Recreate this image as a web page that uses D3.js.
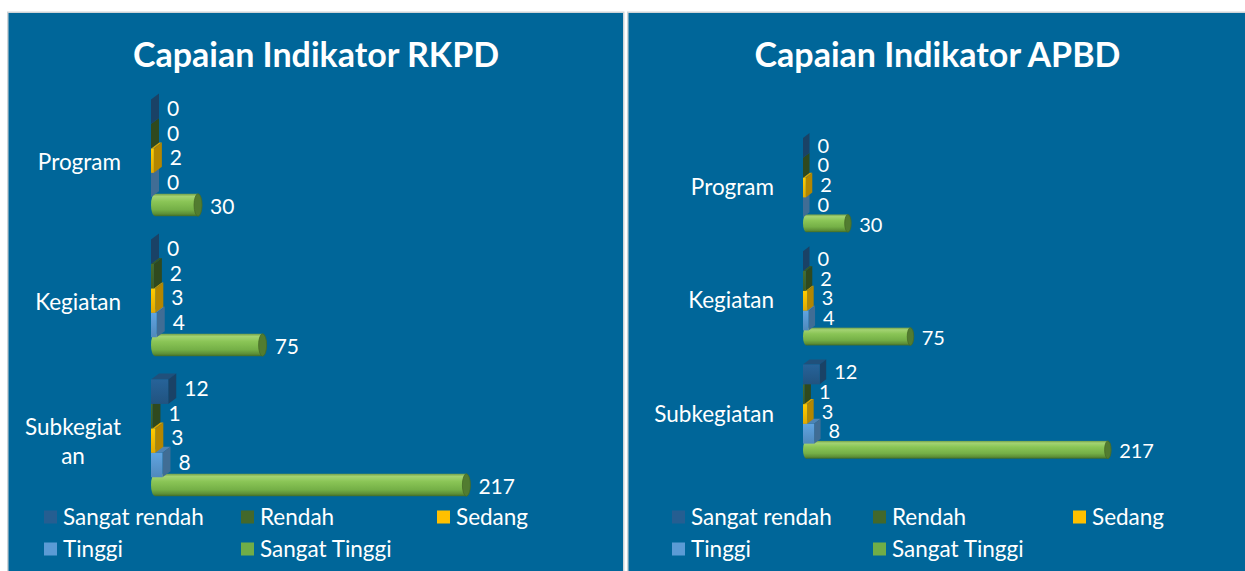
<!DOCTYPE html>
<html>
<head>
<meta charset="utf-8">
<script src="https://cdn.jsdelivr.net/npm/d3@7"></script>
<style>
  html, body { margin: 0; padding: 0; background: #ffffff; }
  svg { display: block; font-family: Lato, "Open Sans", sans-serif; }
</style>
</head>
<body>
<svg id="chart" width="1245" height="571"></svg>
<script>
// ---- data ----
const categories = ["Program", "Kegiatan", "Subkegiatan"];
const seriesNames = ["Sangat rendah", "Rendah", "Sedang", "Tinggi", "Sangat Tinggi"];
const seriesColors = ["#255E91", "#43682B", "#FFC000", "#5B9BD5", "#70AD47"];
const titles = ["Capaian Indikator RKPD", "Capaian Indikator APBD"];

// RKPD counts per category (Program, Kegiatan, Subkegiatan)
const rkpdSangatRendah = [0, 0, 12];
const rkpdRendah = [0, 2, 1];
const rkpdSedang = [2, 3, 3];
const rkpdTinggi = [0, 4, 8];
const rkpdSangatTinggi = [30, 75, 217];

// APBD counts per category (Program, Kegiatan, Subkegiatan)
const apbdSangatRendah = [0, 0, 12];
const apbdRendah = [0, 2, 1];
const apbdSedang = [2, 3, 3];
const apbdTinggi = [0, 4, 8];
const apbdSangatTinggi = [30, 75, 217];

// ---- layout ----
const axisMax = 250;
const panels = [
  { title: titles[0],
    values: [rkpdSangatRendah, rkpdRendah, rkpdSedang, rkpdTinggi, rkpdSangatTinggi],
    left: 7, right: 624.5, titleX: 316, axisX: 151, unit: 1.435,
    yTop: 87.6, yBottom: 507.6, dx: 8, dy: 6,
    labelEnd: 121, labelShift: 5, wrapWidth: 100, valueSize: 21,
    legendX: [44, 241, 437] },
  { title: titles[1],
    values: [apbdSangatRendah, apbdRendah, apbdSedang, apbdTinggi, apbdSangatTinggi],
    left: 627, right: 1252, titleX: 937.5, axisX: 803, unit: 1.39,
    yTop: 128.4, yBottom: 468.1, dx: 6.5, dy: 5,
    labelEnd: 774, labelShift: 3, wrapWidth: 220, valueSize: 20,
    legendX: [672, 873, 1073] }
];
const legendRowsY = [517, 549];

const svg = d3.select("#chart");
const defs = svg.append("defs");

// front-face gradients for the box series
seriesColors.forEach((c, i) => {
  const base = d3.color(c);
  const lg = defs.append("linearGradient")
    .attr("id", "front" + i).attr("x1", 0).attr("y1", 0).attr("x2", 0).attr("y2", 1);
  lg.append("stop").attr("offset", "0%").attr("stop-color", base.brighter(0.15));
  lg.append("stop").attr("offset", "100%").attr("stop-color", base.darker(0.35));
});

// cylinder body shading
const cyl = defs.append("linearGradient")
  .attr("id", "cylBody").attr("x1", 0).attr("y1", 0).attr("x2", 0).attr("y2", 1);
[["0%", "#74a04a"], ["12%", "#a3d372"], ["35%", "#8ac556"], ["70%", "#75b047"],
 ["90%", "#5c8e36"], ["100%", "#416a26"]].forEach(([o, c]) =>
  cyl.append("stop").attr("offset", o).attr("stop-color", c));

function drawBox(g, x0, x1, y, h, dx, dy, si) {
  const c = d3.color(seriesColors[si]);
  g.append("path")
    .attr("d", `M${x0},${y}L${x1},${y}L${x1 + dx},${y - dy}L${x0 + dx},${y - dy}Z`)
    .attr("fill", c.darker(0.45));
  g.append("path")
    .attr("d", `M${x1},${y}L${x1 + dx},${y - dy}L${x1 + dx},${y + h - dy}L${x1},${y + h}Z`)
    .attr("fill", c.darker(1.0));
  if (x1 > x0) {
    g.append("rect")
      .attr("x", x0).attr("y", y).attr("width", x1 - x0).attr("height", h)
      .attr("fill", `url(#front${si})`);
  }
}

function drawCylinder(g, x0, x1, cy, r, rx) {
  g.append("rect")
    .attr("x", x0).attr("y", cy - r).attr("width", Math.max(0, x1 - x0)).attr("height", 2 * r)
    .attr("fill", "url(#cylBody)");
  g.append("ellipse")
    .attr("cx", x0).attr("cy", cy).attr("rx", rx).attr("ry", r)
    .attr("fill", "url(#cylBody)");
  g.append("ellipse")
    .attr("cx", x1).attr("cy", cy).attr("rx", rx).attr("ry", r)
    .attr("fill", "#527c30").attr("stroke", "#456b27").attr("stroke-width", 0.8);
}

panels.forEach(p => {
  const g = svg.append("g");

  g.append("rect")
    .attr("x", p.left + 0.75).attr("y", 12.25)
    .attr("width", p.right - p.left - 1.5).attr("height", 600)
    .attr("fill", "#006699").attr("stroke", "#cfd4d8").attr("stroke-width", 1.5);

  g.append("text")
    .attr("x", p.titleX).attr("y", 67)
    .attr("text-anchor", "middle")
    .attr("font-size", 34).attr("font-weight", 700).attr("fill", "#ffffff")
    .text(p.title);

  const x = d3.scaleLinear().domain([0, axisMax])
    .range([p.axisX, p.axisX + axisMax * p.unit]);
  const y = d3.scaleBand().domain(categories)
    .range([p.yTop, p.yBottom]).paddingInner(0.127).paddingOuter(0.0635);
  const ys = d3.scaleBand().domain(seriesNames).range([0, y.bandwidth()]);
  const sh = ys.bandwidth();

  // category labels
  const axis = g.append("g")
    .attr("transform", `translate(${p.axisX},${p.labelShift})`)
    .call(d3.axisLeft(y).tickSize(0).tickPadding(p.axisX - p.labelEnd));
  axis.select(".domain").remove();
  axis.selectAll(".tick text")
    .attr("font-family", "Lato, 'Open Sans', sans-serif")
    .attr("font-size", 22.5).attr("fill", "#ffffff")
    .each(function () {
      const t = d3.select(this);
      const full = t.text();
      if (this.getComputedTextLength() <= p.wrapWidth) return;
      // break the label where it no longer fits the label column
      const lines = [];
      let rest = full;
      while (rest.length) {
        let n = rest.length;
        t.text(rest.slice(0, n));
        while (n > 1 && this.getComputedTextLength() > p.wrapWidth) {
          n--; t.text(rest.slice(0, n));
        }
        lines.push(rest.slice(0, n));
        rest = rest.slice(n);
      }
      const widths = lines.map(l => { t.text(l); return this.getComputedTextLength(); });
      const w = d3.max(widths);
      const cx = -(p.axisX - p.labelEnd) - w / 2;
      const lh = 29;
      t.text(null).attr("text-anchor", "middle").attr("dy", null);
      lines.forEach((l, i) => {
        t.append("tspan")
          .attr("x", cx)
          .attr("y", (i - (lines.length - 1) / 2) * lh)
          .attr("dy", "0.32em")
          .text(l);
      });
    });

  // bars: lower series first so the rows above sit in front of their top faces
  const bars = g.append("g");
  categories.forEach((cat, ci) => {
    for (let si = seriesNames.length - 1; si >= 0; si--) {
      const v = p.values[si][ci];
      const sy = y(cat) + ys(seriesNames[si]);
      if (si === seriesNames.length - 1) {
        drawCylinder(bars, x(0) + p.dx / 2, x(v) + p.dx / 2, sy + sh / 2 - p.dy / 4, sh / 2 - 1, p.dx / 2);
      } else {
        drawBox(bars, x(0), x(v), sy + p.dy / 2, sh, p.dx, p.dy, si);
      }
    }
  });

  // value labels
  const labels = g.append("g")
    .attr("font-size", p.valueSize).attr("fill", "#ffffff");
  categories.forEach((cat, ci) => {
    seriesNames.forEach((name, si) => {
      const v = p.values[si][ci];
      const sy = y(cat) + ys(name);
      labels.append("text")
        .attr("x", x(v) + p.dx + 8)
        .attr("y", sy + sh / 2 + p.valueSize * 0.36)
        .text(v);
    });
  });

  // legend
  const legend = g.append("g");
  seriesNames.forEach((name, i) => {
    const col = i % 3, row = Math.floor(i / 3);
    const lx = p.legendX[col], ly = legendRowsY[row];
    legend.append("rect")
      .attr("x", lx).attr("y", ly - 6.5).attr("width", 13).attr("height", 13)
      .attr("fill", seriesColors[i]);
    legend.append("text")
      .attr("x", lx + 19).attr("y", ly + 8)
      .attr("font-size", 22.5).attr("fill", "#ffffff")
      .text(name);
  });
});
</script>
</body>
</html>
